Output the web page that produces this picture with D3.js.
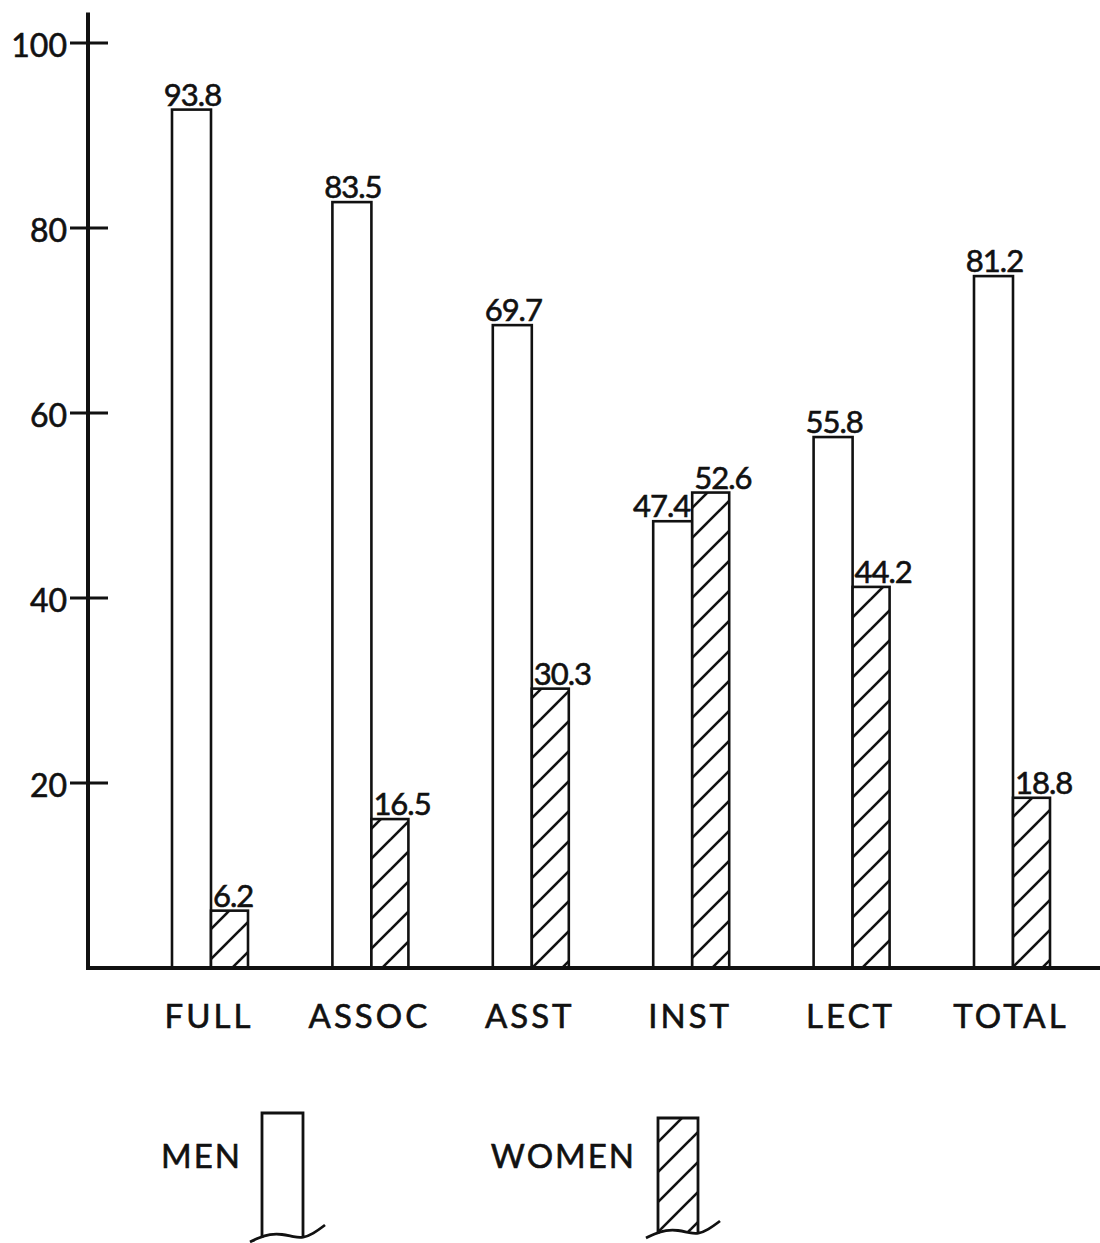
<!DOCTYPE html>
<html>
<head>
<meta charset="utf-8">
<script src="https://cdn.jsdelivr.net/npm/d3@7"></script>
<style>
  html, body { margin: 0; padding: 0; background: #fff; }
  svg { display: block; }
  text { font-family: Lato, "Open Sans", sans-serif; fill: #111; stroke: #111; stroke-width: 0.6px; }
</style>
</head>
<body>
<script>
// ---------- data ----------
const categories = ["FULL", "ASSOC", "ASST", "INST", "LECT", "TOTAL"];
// bar heights as drawn in the picture
const menBarHeights   = [92.8, 82.8, 69.5, 48.3, 57.4, 74.8];
const womenBarHeights = [6.2, 16.1, 30.2, 51.4, 41.2, 18.4];
// printed value labels
const menLabels   = ["93.8", "83.5", "69.7", "47.4", "55.8", "81.2"];
const womenLabels = ["6.2", "16.5", "30.3", "52.6", "44.2", "18.8"];
const yTicks = [20, 40, 60, 80, 100];
const legendLabels = ["MEN", "WOMEN"];

// ---------- layout ----------
const W = 1100, H = 1243;
const svg = d3.select("body").append("svg").attr("width", W).attr("height", H);

const y = d3.scaleLinear().domain([0, 100]).range([968, 43]);
const x = d3.scalePoint().domain(categories).range([211, 1013]);
const barW = 39;
const axisX = 88;
const ink = "#111";

// hatch pattern
const defs = svg.append("defs");
const pat = defs.append("pattern")
  .attr("id", "hatch").attr("patternUnits", "userSpaceOnUse")
  .attr("width", 30).attr("height", 30);
pat.append("rect").attr("width", 30).attr("height", 30).attr("fill", "#fff");
pat.append("line").attr("x1", -3).attr("y1", 33).attr("x2", 33).attr("y2", -3)
  .attr("stroke", ink).attr("stroke-width", 2.6);
pat.append("line").attr("x1", -8).attr("y1", 8).attr("x2", 8).attr("y2", -8)
  .attr("stroke", ink).attr("stroke-width", 2.6);
pat.append("line").attr("x1", 22).attr("y1", 38).attr("x2", 38).attr("y2", 22)
  .attr("stroke", ink).attr("stroke-width", 2.6);

// y axis line
svg.append("line")
  .attr("x1", axisX).attr("x2", axisX)
  .attr("y1", y(0)).attr("y2", y(103.3))
  .attr("stroke", ink).attr("stroke-width", 4);

// ticks
const tk = svg.append("g").selectAll("g").data(yTicks).join("g")
  .attr("transform", d => `translate(0,${y(d)})`);
tk.append("line").attr("x1", axisX - 18).attr("x2", axisX + 20)
  .attr("stroke", ink).attr("stroke-width", 3);
tk.append("text").attr("x", axisX - 21).attr("dy", "0.45em")
  .attr("text-anchor", "end").attr("font-size", 32)
  .text(d => d);

// bars
const groups = svg.append("g").selectAll("g").data(categories).join("g");
groups.append("rect")
  .attr("x", d => x(d) - barW)
  .attr("y", (d, i) => y(menBarHeights[i]))
  .attr("width", barW)
  .attr("height", (d, i) => y(0) - y(menBarHeights[i]))
  .attr("fill", "#fff").attr("stroke", ink).attr("stroke-width", 2.6);
groups.append("rect")
  .attr("x", d => x(d))
  .attr("y", (d, i) => y(womenBarHeights[i]))
  .attr("width", barW - 2)
  .attr("height", (d, i) => y(0) - y(womenBarHeights[i]))
  .attr("fill", "url(#hatch)").attr("stroke", ink).attr("stroke-width", 2.6);

// value labels (men label right-aligned when the women bar is taller, so it doesn't collide)
groups.append("text")
  .attr("x", (d, i) => womenBarHeights[i] > menBarHeights[i] ? x(d) - 2 : x(d) - barW / 2 + 1)
  .attr("y", (d, i) => y(menBarHeights[i]) - 4)
  .attr("text-anchor", (d, i) => womenBarHeights[i] > menBarHeights[i] ? "end" : "middle")
  .attr("font-size", 31).attr("letter-spacing", -1)
  .text((d, i) => menLabels[i]);
groups.append("text")
  .attr("x", d => x(d) + 2)
  .attr("y", (d, i) => y(womenBarHeights[i]) - 4)
  .attr("text-anchor", "start").attr("font-size", 31).attr("letter-spacing", -1)
  .text((d, i) => womenLabels[i]);

// baseline
svg.append("line")
  .attr("x1", axisX - 2).attr("x2", W)
  .attr("y1", y(0)).attr("y2", y(0))
  .attr("stroke", ink).attr("stroke-width", 4);

// category labels
svg.append("g").selectAll("text").data(categories).join("text")
  .attr("x", d => x(d) - 2)
  .attr("y", 1028)
  .attr("text-anchor", "middle").attr("font-size", 33)
  .attr("letter-spacing", 3)
  .text(d => d);

// ---------- legend ----------
const wave = d3.line().curve(d3.curveBasis);
const legendTextY = 1168;
function legendKey(left, top, bottom, w, fill, label, labelRight) {
  const g = svg.append("g");
  g.append("text").attr("x", labelRight).attr("y", legendTextY)
    .attr("text-anchor", "end").attr("font-size", 33).attr("letter-spacing", 2)
    .text(label);
  const wavePts = [
    [left - 12, bottom + 5], [left - 4, bottom + 1], [left + 8, bottom - 3],
    [left + 20, bottom - 3], [left + 32, bottom], [left + w, bottom + 1],
    [left + w + 10, bottom - 3], [left + w + 22, bottom - 12]
  ];
  g.append("rect").attr("x", left).attr("y", top).attr("width", w)
    .attr("height", bottom - top).attr("fill", fill);
  g.append("path")
    .attr("d", `M${left},${bottom + 1} L${left},${top} L${left + w},${top} L${left + w},${bottom + 1}`)
    .attr("fill", "none").attr("stroke", ink).attr("stroke-width", 2.8);
  g.append("path").attr("d", wave(wavePts))
    .attr("fill", "none").attr("stroke", ink).attr("stroke-width", 2.8);
}
legendKey(262, 1113, 1237, 41, "#fff", legendLabels[0], 242);
legendKey(658, 1118, 1233, 40, "url(#hatch)", legendLabels[1], 636);
</script>
</body>
</html>
